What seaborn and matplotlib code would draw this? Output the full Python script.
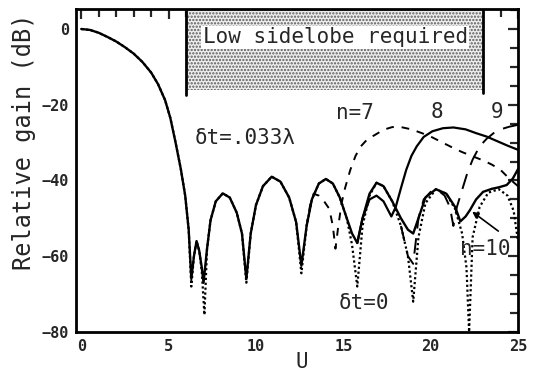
import numpy as np
import pandas as pd
import seaborn as sns
import matplotlib
matplotlib.use("Agg")
import matplotlib.pyplot as plt
from matplotlib.ticker import MultipleLocator

# ---------------- data ----------------
# delta t = 0 (ideal pattern, dotted)
u_dt0 = [0, 0.5, 1.0, 1.5, 2.0, 2.5, 3.0, 3.5, 4.0, 4.4, 4.8, 5.1, 5.4, 5.7, 5.95, 6.15, 6.3,
         6.45, 6.6, 6.75, 6.9, 7.05,
         7.2, 7.4, 7.7, 8.1, 8.5, 8.9, 9.2, 9.45,
         9.7, 10.0, 10.4, 10.9, 11.4, 11.9, 12.3, 12.6,
         12.9, 13.2, 13.6, 14.0, 14.4, 14.8, 15.2, 15.5, 15.8,
         16.1, 16.5, 16.9, 17.3, 17.8, 18.3, 18.7, 19.0,
         19.3, 19.7, 20.3, 20.9, 21.4, 21.8, 22.05, 22.2,
         22.4, 22.8, 23.3, 23.9, 24.4, 24.75, 25.0]
g_dt0 = [0, -0.25, -1.0, -2.1, -3.3, -4.8, -6.5, -8.7, -11.5, -14.6, -18.8, -23.5, -30, -37, -44, -53, -68,
         -60, -56, -58.5, -64, -75.5,
         -58, -50.5, -45.5, -43.4, -44.5, -48.5, -54, -67,
         -54, -46.5, -41.5, -39, -40.3, -44.5, -51, -64.5,
         -52, -45, -40.8, -39.6, -40.8, -44.5, -50, -57, -68,
         -52, -44, -40.6, -41.5, -45.5, -52, -60, -72,
         -55, -46, -42.3, -43.5, -47.5, -54, -63, -80,
         -55, -47, -43.2, -42.3, -44, -48, -56]

# delta t = .033 lambda (solid, nulls filled)
u_dt033 = [0, 0.5, 1.0, 1.5, 2.0, 2.5, 3.0, 3.5, 4.0, 4.4, 4.8, 5.1, 5.4, 5.7, 5.95, 6.15, 6.3,
           6.45, 6.6, 6.75, 6.9, 7.0,
           7.2, 7.4, 7.7, 8.1, 8.5, 8.9, 9.2, 9.45,
           9.7, 10.0, 10.4, 10.9, 11.4, 11.9, 12.3, 12.6,
           12.9, 13.2, 13.6, 14.0, 14.4, 14.8, 15.2, 15.5, 15.8,
           16.1, 16.5, 16.9, 17.3, 17.8, 18.3, 18.7, 19.0,
           19.3, 19.7, 20.3, 20.9, 21.4, 21.7, 22.0, 22.25,
           22.6, 23.0, 23.5, 23.9, 24.35, 24.7, 25.0]
g_dt033 = [0, -0.25, -1.0, -2.1, -3.3, -4.8, -6.5, -8.7, -11.5, -14.6, -18.8, -23.5, -30, -37, -44, -53, -66,
           -60, -56, -58.5, -63, -67,
           -58, -50.5, -45.5, -43.4, -44.5, -48.5, -54, -66,
           -54, -46.5, -41.5, -39, -40.3, -44.5, -51, -62.5,
           -52, -45, -40.8, -39.6, -40.8, -44.5, -50, -54, -56.5,
           -50, -43.5, -40.6, -41.5, -45.5, -50, -53, -54,
           -50, -44.5, -42.3, -43.5, -47, -50.8, -49.5, -47.8,
           -45, -43, -42.2, -41.8, -41.2, -39.5, -37]

# n = 7 (short dashes)
u_n7 = [12.9, 13.1, 13.3, 13.6, 13.9, 14.2, 14.4, 14.55, 14.7, 14.9, 15.1, 15.4, 15.7, 16.0, 16.4,
        16.8, 17.3, 17.8, 18.3, 18.9, 19.5, 20.0, 20.6, 21.2, 21.8, 22.4, 23.0, 23.5, 24.0, 24.5, 25.0]
g_n7 = [-52, -46.5, -43.5, -44, -45.5, -47.5, -52, -58, -52.5, -46, -42, -37.2, -33.5, -31, -29,
        -28, -26.6, -25.9, -25.9, -26.5, -27.5, -28.4, -29.8, -31.2, -32.5, -33.6, -34.7, -35.8, -37.2, -39.5, -41.5]

# n = 8 (solid)
u_n8 = [15.8, 16.1, 16.5, 16.9, 17.3, 17.75, 18.0, 18.3, 18.6, 18.9, 19.2, 19.6, 20.1, 20.7, 21.3,
        22.0, 22.6, 23.2, 23.8, 24.4, 25.0]
g_n8 = [-56.5, -50, -45, -44, -45.5, -49.5, -47, -42, -37.2, -33.5, -31, -28.5, -27, -26.2, -26,
        -26.5, -27.5, -28.4, -29.6, -30.8, -31.9]

# n = 9 (long dashes)
u_n9 = [18.3, 18.7, 19.0, 19.3, 19.6, 20.0, 20.4, 20.8, 21.1, 21.3, 21.5, 21.8, 22.1, 22.4, 22.8,
        23.2, 23.6, 24.0, 24.5, 25.0]
g_n9 = [-52, -60, -62, -50, -45, -43, -42.5, -44, -47, -52, -47, -42.5, -38, -34.5, -31,
        -29, -27.5, -26.5, -25.8, -25.3]

x_ticks = [0, 5, 10, 15, 20, 25]
y_ticks = [0, -20, -40, -60, -80]

# ---------------- figure ----------------
sns.set_style("white")
plt.rcParams["font.family"] = ["DejaVu Sans Mono", "DejaVu Sans"]

fig = plt.figure(figsize=(5.33, 3.75), dpi=100)
ax = fig.add_axes([0.1426, 0.1147, 0.8293, 0.8605])

def draw(u, g, **kw):
    df = pd.DataFrame({"U": u, "gain": g})
    sns.lineplot(data=df, x="U", y="gain", ax=ax, color="black", sort=False,
                 estimator=None, legend=False, **kw)

draw(u_dt0, g_dt0, linewidth=1.6, linestyle=(0, (1, 1.2)))
draw(u_dt033, g_dt033, linewidth=1.7)
draw(u_n7, g_n7, linewidth=1.4, linestyle=(0, (4, 4)))
draw(u_n8, g_n8, linewidth=1.6)
draw(u_n9, g_n9, linewidth=1.4, linestyle=(0, (8, 5)))

# low sidelobe region
plt.rcParams["hatch.linewidth"] = 1.1
ax.fill_between([6.0, 23.0], -16.1, 5.2, facecolor="#eeeeee", edgecolor="#5a5a5a",
                hatch=".....", linewidth=0, zorder=1)
ax.plot([6.0, 6.0], [-17.5, 5.2], color="black", lw=2.0, zorder=3)
ax.plot([23.0, 23.0], [-17.0, 5.2], color="black", lw=2.0, zorder=3)
ax.text(14.55, -2.2, "Low sidelobe required", ha="center", va="center", fontsize=15,
        bbox=dict(facecolor="white", edgecolor="none", pad=1.0), zorder=4)

# annotations
ax.text(6.5, -28.8, "δt=.033λ", ha="left", va="center", fontsize=15)
ax.text(14.6, -22.2, "n=7", ha="left", va="center", fontsize=15)
ax.text(20.35, -21.8, "8", ha="center", va="center", fontsize=15)
ax.text(23.8, -21.8, "9", ha="center", va="center", fontsize=15)
ax.text(16.2, -72.3, "δt=0", ha="center", va="center", fontsize=15)
ax.text(23.1, -58.0, "n=10", ha="center", va="center", fontsize=15)
ax.annotate("", xy=(22.25, -47.8), xytext=(24.0, -53.8),
            arrowprops=dict(arrowstyle="-|>", color="black", lw=1.2, mutation_scale=9))

# axes
ax.set_xlim(-0.3, 25)
ax.set_ylim(-80, 5.2)
ax.set_xticks(x_ticks)
ax.set_yticks(y_ticks)
ax.xaxis.set_minor_locator(MultipleLocator(1))
ax.yaxis.set_minor_locator(MultipleLocator(5))
ax.tick_params(which="both", direction="in", top=True, right=True, width=1.6)
ax.tick_params(which="major", length=7, labelsize=11, pad=5)
ax.tick_params(which="minor", length=6)
for lab in ax.get_xticklabels() + ax.get_yticklabels():
    lab.set_fontweight("bold")
for s in ax.spines.values():
    s.set_linewidth(2.0)
    s.set_color("black")
ax.set_xlabel("U", fontsize=15)
ax.xaxis.set_label_coords(0.511, -0.062)
ax.set_ylabel("Relative gain (dB)", fontsize=17)
ax.yaxis.set_label_coords(-0.09, 0.59)

fig.savefig("out.png", dpi=100)
